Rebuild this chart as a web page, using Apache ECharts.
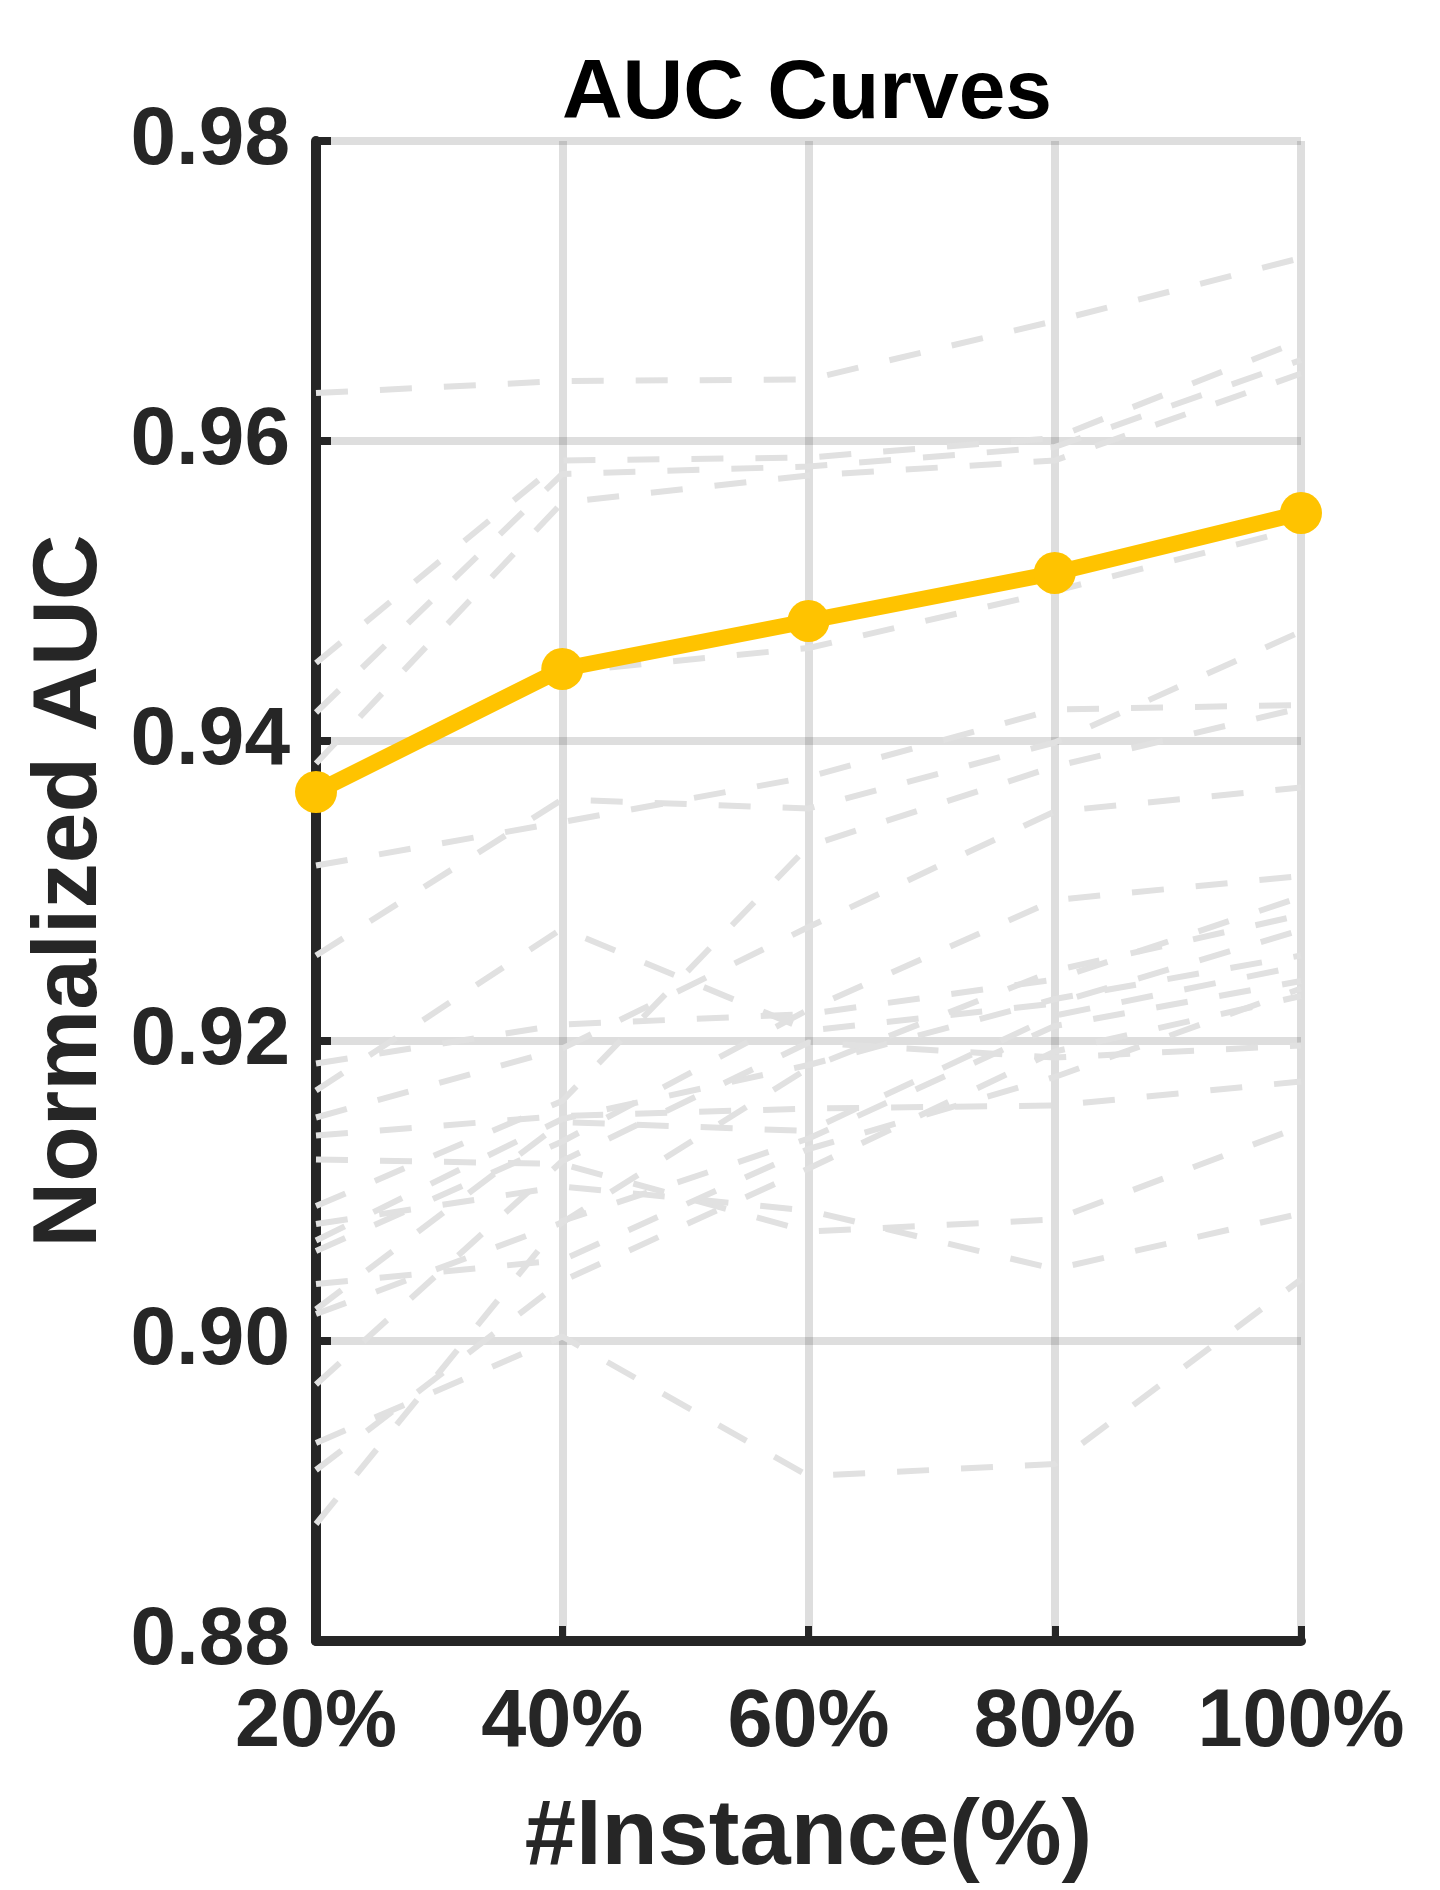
<!DOCTYPE html>
<html>
<head>
<meta charset="utf-8">
<script src="https://cdn.jsdelivr.net/npm/echarts@6.0.0/dist/echarts.min.js"></script>
<style>
  html, body { margin: 0; padding: 0; background: #fff; }
  #chart { width: 1440px; height: 1890px; }
</style>
</head>
<body>
<div id="chart"></div>
<script>
// x categories and y range
const categories = ['20%', '40%', '60%', '80%', '100%']
const yMin = 0.88
const yMax = 0.98
const yStep = 0.02

// highlighted curve
const mainAuc = [0.9366, 0.9448, 0.948, 0.9512, 0.9552]

// background (grey dashed) curves
const curve01 = [0.9632, 0.964, 0.9641, 0.968, 0.9722]
const curve02 = [0.9452, 0.9587, 0.9589, 0.9602, 0.9667]
const curve03 = [0.9419, 0.9578, 0.9583, 0.9596, 0.9654]
const curve04 = [0.9385, 0.9559, 0.9577, 0.9587, 0.9645]
const curve05 = [0.9368, 0.9446, 0.9462, 0.95, 0.9542]
const curve06 = [0.9317, 0.9346, 0.9376, 0.9421, 0.9424]
const curve07 = [0.9257, 0.9361, 0.9355, 0.9399, 0.9473]
const curve08 = [0.9167, 0.9275, 0.9207, 0.9225, 0.9274]
const curve09 = [0.909, 0.916, 0.933, 0.9383, 0.9422]
const curve10 = [0.9149, 0.9195, 0.9276, 0.9353, 0.9369]
const curve11 = [0.906, 0.9133, 0.9221, 0.9294, 0.931]
const curve12 = [0.9137, 0.915, 0.9155, 0.9157, 0.9173]
const curve13 = [0.9121, 0.9118, 0.9073, 0.9081, 0.9143]
const curve14 = [0.9078, 0.9103, 0.9087, 0.9048, 0.9085]
const curve15 = [0.8932, 0.9003, 0.891, 0.8918, 0.9041]
const curve16 = [0.9185, 0.9211, 0.9218, 0.9241, 0.9296]
const curve17 = [0.9018, 0.9079, 0.9182, 0.9247, 0.9284]
const curve18 = [0.9067, 0.9148, 0.9184, 0.9228, 0.9257]
const curve19 = [0.9021, 0.9146, 0.914, 0.9217, 0.925]
const curve20 = [0.9038, 0.9054, 0.9128, 0.9176, 0.9235]
const curve21 = [0.8971, 0.912, 0.9199, 0.9189, 0.9197]
const curve22 = [0.8914, 0.904, 0.9115, 0.9193, 0.923]
const curve23 = [0.8878, 0.908, 0.9135, 0.921, 0.924]

const greyCurves = [
  curve01, curve02, curve03, curve04, curve05, curve06, curve07, curve08,
  curve09, curve10, curve11, curve12, curve13, curve14, curve15, curve16,
  curve17, curve18, curve19, curve20, curve21, curve22, curve23
]

const font = 'Liberation Sans, Arial, Helvetica, sans-serif'
const dark = '#262626'
const gridColor = 'rgba(0,0,0,0.13)'

const greySeries = greyCurves.map((d) => {
  return {
    type: 'line',
    data: d,
    symbol: 'none',
    silent: true,
    z: 2,
    lineStyle: { color: '#e1e1e1', width: 6, type: [32, 32], cap: 'butt' }
  }
})

const option = {
  animation: false,
  backgroundColor: '#fff',
  title: {
    text: 'AUC Curves',
    left: 802,
    top: 48,
    textAlign: 'center',
    textStyle: { fontFamily: font, fontSize: 84, fontWeight: 'bold', color: '#000' }
  },
  grid: { left: 316, right: 139, top: 141, bottom: 249 },
  xAxis: {
    type: 'category',
    data: categories,
    boundaryGap: false,
    name: '#Instance(%)',
    nameLocation: 'middle',
    nameGap: 152,
    nameTextStyle: { fontFamily: font, fontSize: 92, fontWeight: 'bold', color: dark },
    axisLine: { lineStyle: { color: dark, width: 10 } },
    axisTick: { inside: true, length: 15, interval: 0, lineStyle: { color: dark, width: 7 } },
    axisLabel: {
      interval: 0,
      hideOverlap: false,
      margin: 42,
      fontFamily: font,
      fontSize: 81,
      fontWeight: 'bold',
      color: dark
    },
    splitLine: { show: true, interval: 0, lineStyle: { color: gridColor, width: 8 } }
  },
  yAxis: {
    type: 'value',
    min: yMin,
    max: yMax,
    interval: yStep,
    name: 'Normalized AUC',
    nameLocation: 'middle',
    nameGap: 200,
    nameTextStyle: { fontFamily: font, fontSize: 91, fontWeight: 'bold', color: dark },
    axisLine: { show: true, lineStyle: { color: dark, width: 10 } },
    axisTick: { show: true, inside: true, length: 15, lineStyle: { color: dark, width: 8 } },
    axisLabel: {
      margin: 26,
      fontFamily: font,
      fontSize: 82,
      fontWeight: 'bold',
      color: dark,
      formatter: (v) => v.toFixed(2)
    },
    splitLine: { show: true, lineStyle: { color: gridColor, width: 8 } }
  },
  series: [
    ...greySeries,
    {
      type: 'line',
      data: mainAuc,
      z: 3,
      symbol: 'circle',
      symbolSize: 42,
      itemStyle: { color: '#FFC300' },
      lineStyle: { color: '#FFC300', width: 16 }
    }
  ]
}

const myChart = echarts.init(document.getElementById('chart'))
myChart.setOption(option)
</script>
</body>
</html>
